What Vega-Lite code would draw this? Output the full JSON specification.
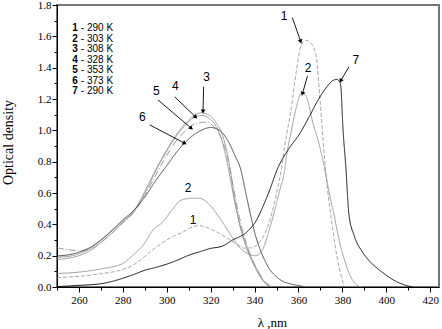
{
  "$schema": "https://vega.github.io/schema/vega-lite/v6.json",
  "autosize": {"type": "none"},
  "padding": {"left": 57, "top": 5, "right": 3, "bottom": 42},
  "width": 382,
  "height": 282,
  "background": "white",
  "config": {
    "view": {"stroke": "#777777", "strokeWidth": 2},
    "font": "Liberation Serif",
    "axis": {"grid": false, "domainColor": "black", "tickColor": "black", "labelColor": "black", "titleColor": "black", "labelFont": "Liberation Serif", "titleFont": "Liberation Serif", "titleFontWeight": "normal", "labelFontSize": 11}
  },
  "resolve": {"axis": {"x": "independent", "y": "independent"}},
  "datasets": {
    "curves": [
      {"curve":"1","nm":250,"od":0.060},{"curve":"1","nm":260,"od":0.068},{"curve":"1","nm":270,"od":0.085},{"curve":"1","nm":280,"od":0.112},{"curve":"1","nm":285,"od":0.142},{"curve":"1","nm":290,"od":0.195},{"curve":"1","nm":293,"od":0.232},{"curve":"1","nm":296,"od":0.262},{"curve":"1","nm":300,"od":0.300},{"curve":"1","nm":304,"od":0.330},{"curve":"1","nm":307.5,"od":0.352},{"curve":"1","nm":312,"od":0.384},{"curve":"1","nm":314.5,"od":0.392},{"curve":"1","nm":317,"od":0.386},{"curve":"1","nm":320,"od":0.370},{"curve":"1","nm":324,"od":0.342},{"curve":"1","nm":328,"od":0.308},{"curve":"1","nm":332,"od":0.272},{"curve":"1","nm":335.5,"od":0.248},{"curve":"1","nm":338.5,"od":0.250},{"curve":"1","nm":341,"od":0.268},{"curve":"1","nm":343.5,"od":0.310},{"curve":"1","nm":347,"od":0.430},{"curve":"1","nm":350,"od":0.600},{"curve":"1","nm":352.2,"od":0.750},{"curve":"1","nm":353.7,"od":0.896},{"curve":"1","nm":356.8,"od":1.152},{"curve":"1","nm":359.1,"od":1.386},{"curve":"1","nm":361.3,"od":1.546},{"curve":"1","nm":363.5,"od":1.575},{"curve":"1","nm":365.5,"od":1.560},{"curve":"1","nm":366.8,"od":1.530},{"curve":"1","nm":368.2,"od":1.460},{"curve":"1","nm":369.7,"od":1.215},{"curve":"1","nm":371.2,"od":0.940},{"curve":"1","nm":372.5,"od":0.720},{"curve":"1","nm":374.7,"od":0.460},{"curve":"1","nm":376.5,"od":0.280},{"curve":"1","nm":377.7,"od":0.180},{"curve":"1","nm":379.5,"od":0.070},{"curve":"1","nm":380.8,"od":0.0},
      {"curve":"2","nm":250,"od":0.086},{"curve":"2","nm":260,"od":0.095},{"curve":"2","nm":270,"od":0.115},{"curve":"2","nm":277,"od":0.135},{"curve":"2","nm":280,"od":0.150},{"curve":"2","nm":284.6,"od":0.203},{"curve":"2","nm":289.2,"od":0.267},{"curve":"2","nm":293.7,"od":0.363},{"curve":"2","nm":298.3,"od":0.416},{"curve":"2","nm":302.8,"od":0.500},{"curve":"2","nm":306.7,"od":0.555},{"curve":"2","nm":311,"od":0.566},{"curve":"2","nm":315,"od":0.566},{"curve":"2","nm":319.6,"od":0.523},{"curve":"2","nm":324.1,"od":0.440},{"curve":"2","nm":328.7,"od":0.342},{"curve":"2","nm":333,"od":0.255},{"curve":"2","nm":337,"od":0.212},{"curve":"2","nm":340.5,"od":0.200},{"curve":"2","nm":343.5,"od":0.235},{"curve":"2","nm":347,"od":0.380},{"curve":"2","nm":351.5,"od":0.620},{"curve":"2","nm":353.7,"od":0.746},{"curve":"2","nm":354.5,"od":0.830},{"curve":"2","nm":356.8,"od":1.000},{"curve":"2","nm":359.1,"od":1.152},{"curve":"2","nm":361.3,"od":1.237},{"curve":"2","nm":362.5,"od":1.235},{"curve":"2","nm":363.6,"od":1.215},{"curve":"2","nm":366.6,"od":1.045},{"curve":"2","nm":369.7,"od":0.896},{"curve":"2","nm":372,"od":0.750},{"curve":"2","nm":374,"od":0.600},{"curve":"2","nm":376.2,"od":0.460},{"curve":"2","nm":378.5,"od":0.300},{"curve":"2","nm":380.8,"od":0.180},{"curve":"2","nm":383.8,"od":0.064},{"curve":"2","nm":386,"od":0.020},{"curve":"2","nm":388.4,"od":0.0},
      {"curve":"3","nm":250,"od":0.175},{"curve":"3","nm":255,"od":0.183},{"curve":"3","nm":260,"od":0.200},{"curve":"3","nm":265,"od":0.232},{"curve":"3","nm":270,"od":0.285},{"curve":"3","nm":275,"od":0.345},{"curve":"3","nm":280,"od":0.410},{"curve":"3","nm":285,"od":0.480},{"curve":"3","nm":290,"od":0.610},{"curve":"3","nm":295,"od":0.750},{"curve":"3","nm":300,"od":0.875},{"curve":"3","nm":305,"od":0.985},{"curve":"3","nm":310,"od":1.065},{"curve":"3","nm":313,"od":1.100},{"curve":"3","nm":316,"od":1.112},{"curve":"3","nm":318,"od":1.105},{"curve":"3","nm":320,"od":1.090},{"curve":"3","nm":322.6,"od":1.045},{"curve":"3","nm":325.6,"od":0.960},{"curve":"3","nm":328.7,"od":0.770},{"curve":"3","nm":331,"od":0.555},{"curve":"3","nm":333,"od":0.410},{"curve":"3","nm":336,"od":0.270},{"curve":"3","nm":339,"od":0.170},{"curve":"3","nm":342,"od":0.090},{"curve":"3","nm":344.5,"od":0.030},{"curve":"3","nm":347,"od":0.005},
      {"curve":"4","nm":250,"od":0.190},{"curve":"4","nm":255,"od":0.195},{"curve":"4","nm":260,"od":0.212},{"curve":"4","nm":265,"od":0.245},{"curve":"4","nm":270,"od":0.298},{"curve":"4","nm":275,"od":0.358},{"curve":"4","nm":280,"od":0.420},{"curve":"4","nm":285,"od":0.485},{"curve":"4","nm":290,"od":0.600},{"curve":"4","nm":295,"od":0.740},{"curve":"4","nm":300,"od":0.868},{"curve":"4","nm":305,"od":0.975},{"curve":"4","nm":310,"od":1.055},{"curve":"4","nm":313,"od":1.085},{"curve":"4","nm":316,"od":1.095},{"curve":"4","nm":319,"od":1.080},{"curve":"4","nm":322,"od":1.035},{"curve":"4","nm":325,"od":0.940},{"curve":"4","nm":328,"od":0.760},{"curve":"4","nm":331,"od":0.540},{"curve":"4","nm":334,"od":0.360},{"curve":"4","nm":337,"od":0.225},{"curve":"4","nm":340,"od":0.130},{"curve":"4","nm":343,"od":0.055},{"curve":"4","nm":346,"od":0.008},
      {"curve":"5","nm":250,"od":0.250},{"curve":"5","nm":255,"od":0.238},{"curve":"5","nm":260,"od":0.232},{"curve":"5","nm":265,"od":0.240},{"curve":"5","nm":270,"od":0.283},{"curve":"5","nm":275,"od":0.342},{"curve":"5","nm":280,"od":0.412},{"curve":"5","nm":285,"od":0.478},{"curve":"5","nm":290,"od":0.585},{"curve":"5","nm":295,"od":0.715},{"curve":"5","nm":300,"od":0.840},{"curve":"5","nm":305,"od":0.945},{"curve":"5","nm":310,"od":1.015},{"curve":"5","nm":314,"od":1.048},{"curve":"5","nm":318,"od":1.052},{"curve":"5","nm":321,"od":1.030},{"curve":"5","nm":324,"od":0.975},{"curve":"5","nm":327,"od":0.860},{"curve":"5","nm":330,"od":0.660},{"curve":"5","nm":333,"od":0.450},{"curve":"5","nm":336,"od":0.290},{"curve":"5","nm":339,"od":0.175},{"curve":"5","nm":342,"od":0.090},{"curve":"5","nm":345,"od":0.030},{"curve":"5","nm":348,"od":0.005},
      {"curve":"6","nm":250,"od":0.198},{"curve":"6","nm":255,"od":0.205},{"curve":"6","nm":260,"od":0.222},{"curve":"6","nm":265,"od":0.252},{"curve":"6","nm":270,"od":0.300},{"curve":"6","nm":275,"od":0.362},{"curve":"6","nm":280,"od":0.428},{"curve":"6","nm":285,"od":0.490},{"curve":"6","nm":290,"od":0.575},{"curve":"6","nm":295,"od":0.680},{"curve":"6","nm":300,"od":0.775},{"curve":"6","nm":305,"od":0.870},{"curve":"6","nm":310,"od":0.945},{"curve":"6","nm":315,"od":0.995},{"curve":"6","nm":320,"od":1.018},{"curve":"6","nm":324,"od":1.000},{"curve":"6","nm":328,"od":0.930},{"curve":"6","nm":331,"od":0.840},{"curve":"6","nm":333.7,"od":0.750},{"curve":"6","nm":336,"od":0.600},{"curve":"6","nm":338,"od":0.470},{"curve":"6","nm":340,"od":0.350},{"curve":"6","nm":342,"od":0.260},{"curve":"6","nm":344.3,"od":0.180},{"curve":"6","nm":347,"od":0.110},{"curve":"6","nm":349.6,"od":0.070},{"curve":"6","nm":353,"od":0.035},{"curve":"6","nm":357,"od":0.018},{"curve":"6","nm":362.5,"od":0.003},
      {"curve":"7","nm":250,"od":0.003},{"curve":"7","nm":255,"od":0.006},{"curve":"7","nm":259.4,"od":0.010},{"curve":"7","nm":265,"od":0.014},{"curve":"7","nm":269.5,"od":0.020},{"curve":"7","nm":275,"od":0.035},{"curve":"7","nm":280,"od":0.056},{"curve":"7","nm":285,"od":0.080},{"curve":"7","nm":290,"od":0.107},{"curve":"7","nm":295,"od":0.125},{"curve":"7","nm":299.8,"od":0.145},{"curve":"7","nm":305,"od":0.172},{"curve":"7","nm":309.5,"od":0.200},{"curve":"7","nm":315,"od":0.225},{"curve":"7","nm":319.6,"od":0.245},{"curve":"7","nm":325.5,"od":0.262},{"curve":"7","nm":330,"od":0.300},{"curve":"7","nm":336.4,"od":0.350},{"curve":"7","nm":341,"od":0.430},{"curve":"7","nm":344,"od":0.520},{"curve":"7","nm":346.9,"od":0.620},{"curve":"7","nm":350.6,"od":0.760},{"curve":"7","nm":355,"od":0.870},{"curve":"7","nm":360.6,"od":0.980},{"curve":"7","nm":365,"od":1.090},{"curve":"7","nm":368.9,"od":1.193},{"curve":"7","nm":372,"od":1.260},{"curve":"7","nm":375.7,"od":1.318},{"curve":"7","nm":377.5,"od":1.325},{"curve":"7","nm":378.5,"od":1.315},{"curve":"7","nm":379.2,"od":1.290},{"curve":"7","nm":380.3,"od":1.000},{"curve":"7","nm":381.5,"od":0.780},{"curve":"7","nm":383,"od":0.460},{"curve":"7","nm":385.3,"od":0.330},{"curve":"7","nm":389.1,"od":0.224},{"curve":"7","nm":392,"od":0.170},{"curve":"7","nm":396,"od":0.118},{"curve":"7","nm":400,"od":0.075},{"curve":"7","nm":403.5,"od":0.043},{"curve":"7","nm":408,"od":0.015},{"curve":"7","nm":411.9,"od":0.0}
    ],
    "arrows": [
      {"nm":357.2,"od":1.719,"nm2":361.0,"od2":1.567,"angle":-18},
      {"nm":364.1,"od":1.348,"nm2":361.8,"od2":1.233,"angle":15},
      {"nm":383.0,"od":1.406,"nm2":379.2,"od2":1.316,"angle":30},
      {"nm":316.8,"od":1.278,"nm2":316.5,"od2":1.12,"angle":2},
      {"nm":303.6,"od":1.214,"nm2":313.2,"od2":1.084,"angle":-45},
      {"nm":296.0,"od":1.194,"nm2":311.2,"od2":1.013,"angle":-50},
      {"nm":292.2,"od":1.035,"nm2":308.2,"od2":0.917,"angle":-62}
    ],
    "labels": [
      {"t":"1","nm":353.4,"od":1.732},{"t":"2","nm":364.4,"od":1.397},{"t":"7","nm":386.1,"od":1.45},
      {"t":"3","nm":318.1,"od":1.34},{"t":"4","nm":303.9,"od":1.284},{"t":"5","nm":295.3,"od":1.254},
      {"t":"6","nm":288.9,"od":1.084},{"t":"2","nm":309.7,"od":0.63},{"t":"1","nm":312,"od":0.427}
    ],
    "legend": [
      {"num":"1","rest":"- 290 K","nm":257,"od":1.653},
      {"num":"2","rest":"- 303 K","nm":257,"od":1.586},
      {"num":"3","rest":"- 308 K","nm":257,"od":1.519},
      {"num":"4","rest":"- 328 K","nm":257,"od":1.452},
      {"num":"5","rest":"- 353 K","nm":257,"od":1.385},
      {"num":"6","rest":"- 373 K","nm":257,"od":1.318},
      {"num":"7","rest":"- 290 K","nm":257,"od":1.251}
    ]
  },
  "layer": [
    {
      "data": {"name": "curves"},
      "mark": {"type": "line", "interpolate": "monotone"},
      "encoding": {
        "x": {"field": "nm", "type": "quantitative",
          "scale": {"domain": [250, 424], "nice": false, "zero": false},
          "axis": {"orient": "bottom", "title": "λ ,nm", "titleFont": "Liberation Serif", "titleFontSize": 13, "titleX": 215, "titleY": 35, "titleAlign": "center", "titleBaseline": "middle",
            "values": [260,280,300,320,340,360,380,400,420], "labelFont": "Liberation Serif", "labelFontSize": 11,
            "format": "d", "labelOverlap": false, "labelFlush": false, "tickSize": 5, "labelPadding": 2}},
        "y": {"field": "od", "type": "quantitative",
          "scale": {"domain": [0, 1.8], "nice": false},
          "axis": {"orient": "left", "title": "Optical density", "titleFont": "Liberation Serif", "titleFontSize": 14, "titleX": -49, "titleY": 137, "titleAngle": -90, "titleAlign": "center", "titleBaseline": "middle",
            "values": [0,0.2,0.4,0.6,0.8,1.0,1.2,1.4,1.6,1.8], "labelFont": "Liberation Serif", "labelFontSize": 11,
            "format": ".1f", "labelOverlap": false, "labelFlush": false, "tickSize": 5, "labelPadding": 1}},
        "color": {"field": "curve", "type": "nominal", "legend": null,
          "scale": {"domain": ["1","2","3","4","5","6","7"], "range": ["#909090","#8c8c8c","#8c8c8c","#8c8c8c","#8c8c8c","#3c3c3c","#000000"]}},
        "strokeDash": {"field": "curve", "type": "nominal", "legend": null,
          "scale": {"domain": ["1","2","3","4","5","6","7"], "range": [[4,2],[1,0],[1,0],[1,0],[7,2,1,2],[1,0],[1,0]]}},
        "strokeWidth": {"field": "curve", "type": "nominal", "legend": null,
          "scale": {"domain": ["1","2","3","4","5","6","7"], "range": [0.8,0.9,0.9,0.9,0.9,1,1.6]}}
      }
    },
    {
      "data": {"name": "arrows"},
      "mark": {"type": "rule", "color": "black", "strokeWidth": 0.9},
      "encoding": {
        "x": {"field": "nm", "type": "quantitative",
          "axis": {"orient": "bottom", "title": null, "values": [250,270,290,310,330,350,370,390,410], "labels": false, "domain": false, "tickSize": 3}},
        "y": {"field": "od", "type": "quantitative",
          "axis": {"orient": "left", "title": null, "values": [0.1,0.3,0.5,0.7,0.9,1.1,1.3,1.5,1.7], "labels": false, "domain": false, "tickSize": 3}},
        "x2": {"field": "nm2"},
        "y2": {"field": "od2"}
      }
    },
    {
      "data": {"name": "arrows"},
      "mark": {"type": "point", "shape": "triangle-down", "filled": true, "color": "black", "size": 22, "opacity": 1},
      "encoding": {
        "x": {"field": "nm2", "type": "quantitative", "axis": null},
        "y": {"field": "od2", "type": "quantitative", "axis": null},
        "angle": {"field": "angle", "type": "quantitative", "scale": null}
      }
    },
    {
      "data": {"name": "labels"},
      "mark": {"type": "text", "font": "Liberation Sans", "fontSize": 12, "color": "black", "align": "center", "baseline": "middle"},
      "encoding": {
        "x": {"field": "nm", "type": "quantitative", "axis": null},
        "y": {"field": "od", "type": "quantitative", "axis": null},
        "text": {"field": "t"}
      }
    },
    {
      "data": {"name": "legend"},
      "mark": {"type": "text", "font": "Liberation Sans", "fontSize": 10, "fontWeight": "bold", "color": "black", "align": "left", "baseline": "middle"},
      "encoding": {
        "x": {"field": "nm", "type": "quantitative", "axis": null},
        "y": {"field": "od", "type": "quantitative", "axis": null},
        "text": {"field": "num"}
      }
    },
    {
      "data": {"name": "legend"},
      "mark": {"type": "text", "font": "Liberation Sans", "fontSize": 10, "color": "black", "align": "left", "baseline": "middle", "dx": 8.5},
      "encoding": {
        "x": {"field": "nm", "type": "quantitative", "axis": null},
        "y": {"field": "od", "type": "quantitative", "axis": null},
        "text": {"field": "rest"}
      }
    }
  ]
}
